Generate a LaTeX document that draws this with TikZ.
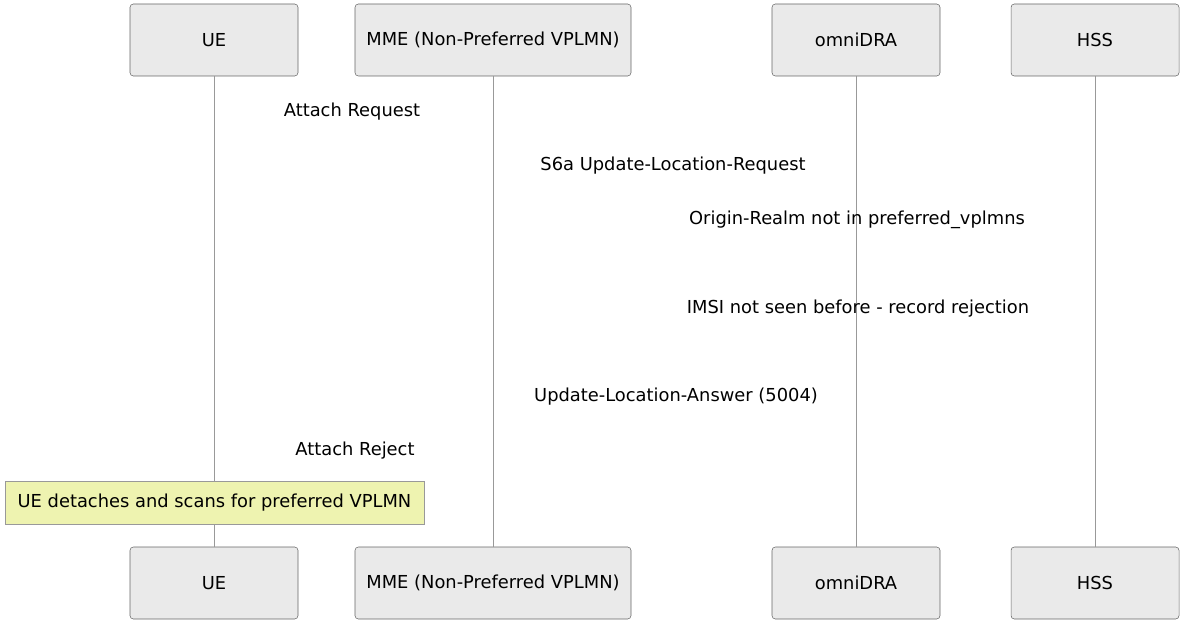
\documentclass[tikz,border=0pt]{standalone}
\usepackage{fontspec}
\setmainfont{DejaVu Sans}
\definecolor{actorfill}{HTML}{EAEAEA}
\definecolor{actorline}{HTML}{666666}
\definecolor{notefill}{HTML}{EEF3B0}
\definecolor{lifeline}{HTML}{999999}

\tikzset{
  actor/.style={draw=actorline, fill=actorfill, rounded corners=2.5pt, minimum width=126pt, minimum height=54pt, inner sep=0pt, font=\fontsize{13.4}{16}\selectfont},
  msg/.style={font=\fontsize{13.4}{16}\selectfont, inner sep=0pt},
  notebox/.style={draw=lifeline, fill=notefill, minimum width=314pt, minimum height=32pt, inner sep=0pt, font=\fontsize{13.4}{16}\selectfont}
}

\begin{document}
\begin{tikzpicture}[x=0.75pt,y=-0.75pt]
        \useasboundingbox (0,0) rectangle (1180,620);

        % participants, top row
        \node[actor] (ue) at (214,40) {UE};
        \node[actor, minimum width=207pt] (mme) at (493,40) {MME (Non-Preferred VPLMN)};
        \node[actor] (dra) at (856,40) {omniDRA};
        \node[actor] (hss) at (1095,40) {HSS};

        % participants, bottom row
        \node[actor] (ueb) at (214,583) {UE};
        \node[actor, minimum width=207pt] (mmeb) at (493,583) {MME (Non-Preferred VPLMN)};
        \node[actor] (drab) at (856,583) {omniDRA};
        \node[actor] (hssb) at (1095,583) {HSS};

        % lifelines
        \draw[lifeline, line width=0.6pt] (ue) -- (ueb);
        \draw[lifeline, line width=0.6pt] (mme) -- (mmeb);
        \draw[lifeline, line width=0.6pt] (dra) -- (drab);
        \draw[lifeline, line width=0.6pt] (hss) -- (hssb);

        % message texts
        \node[msg] (m1) at (352,112) {Attach Request};
        \node[msg] (m2) at (673,166) {S6a Update-Location-Request};
        \node[msg] (m3) at (857,220) {Origin-Realm not in preferred\_vplmns};
        \node[msg] (m4) at (858,309) {IMSI not seen before - record rejection};
        \node[msg] (m5) at (676,397) {Update-Location-Answer (5004)};
        \node[msg] (m6) at (355,451) {Attach Reject};

        % note over UE
        \node[notebox] (nt) at (214.5,503) {UE detaches and scans for preferred VPLMN};

    \end{tikzpicture}
\end{document}
